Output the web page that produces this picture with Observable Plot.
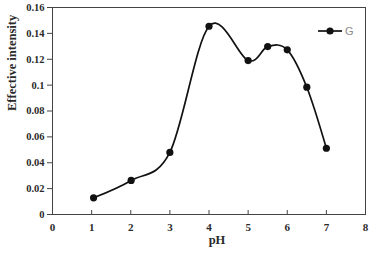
<!DOCTYPE html>
<html>
<head>
<meta charset="utf-8">
<script src="https://cdn.jsdelivr.net/npm/d3@7"></script>
<script src="https://cdn.jsdelivr.net/npm/@observablehq/plot@0.6"></script>
<style>
  html, body { margin: 0; padding: 0; background: #fff; }
  #wrap { position: relative; width: 371px; height: 254px; }
  #legend { position: absolute; left: 317px; top: 25px; display: flex; align-items: center;
            font-family: "Liberation Sans", Arial, sans-serif; font-size: 11px; color: #8a8a8a; }
</style>
</head>
<body>
<div id="wrap"></div>
<script>
const seriesName = "G";
const xLabel = "pH";
const yLabel = "Effective intensity";
const pH = [1.05, 2.01, 3.0, 4.0, 5.0, 5.5, 6.0, 6.5, 7.0];
const intensity = [0.0129, 0.0263, 0.048, 0.1455, 0.119, 0.1298, 0.1273, 0.0984, 0.0512];
const xTicks = [0, 1, 2, 3, 4, 5, 6, 7, 8];
const yTicks = [0, 0.02, 0.04, 0.06, 0.08, 0.1, 0.12, 0.14, 0.16];

const data = pH.map((x, i) => ({pH: x, value: intensity[i]}));
const serif = "'Liberation Serif', 'Times New Roman', serif";

const chart = Plot.plot({
  width: 371,
  height: 254,
  marginLeft: 52,
  marginRight: 6,
  marginTop: 7,
  marginBottom: 40,
  style: {fontFamily: serif, fontWeight: "bold", fontSize: "11px", color: "#2a2a2a", background: "#fff"},
  x: {domain: [0, 8]},
  y: {domain: [0, 0.16]},
  marks: [
    Plot.frame({stroke: "#444", strokeWidth: 1}),
    Plot.gridX({ticks: xTicks, insetTop: 203, stroke: "#444", strokeOpacity: 1}),
    Plot.axisY({ticks: yTicks, tickSize: 5, tickPadding: 3, tickFormat: d => String(+d.toFixed(2)),
      label: null, fontSize: 10.5, stroke: "#444"}),
    Plot.axisX({ticks: xTicks, tickSize: 0, tickPadding: 9, tickFormat: d => String(d),
      label: null, fontSize: 11}),
    Plot.text([yLabel], {text: d => d, frameAnchor: "left", dx: -41, rotate: -90, fontSize: 12.5, fill: "#2a2a2a"}),
    Plot.text([xLabel], {text: d => d, frameAnchor: "bottom", dx: 8, dy: 29, fontSize: 12.5, fill: "#2a2a2a"}),
    Plot.line(data, {x: "pH", y: "value", curve: "cardinal", stroke: "#111", strokeWidth: 1.7}),
    Plot.dot(data, {x: "pH", y: "value", r: 3.6, fill: "#111"})
  ]
});
document.getElementById("wrap").appendChild(chart);

const legend = document.createElement("div");
legend.id = "legend";
legend.innerHTML = `<svg width="26" height="10"><line x1="1" y1="5" x2="25" y2="5" stroke="#111" stroke-width="1.7"/><circle cx="13" cy="5" r="3.6" fill="#111"/></svg><span style="margin-left:2px">${seriesName}</span>`;
document.getElementById("wrap").appendChild(legend);
</script>
</body>
</html>
